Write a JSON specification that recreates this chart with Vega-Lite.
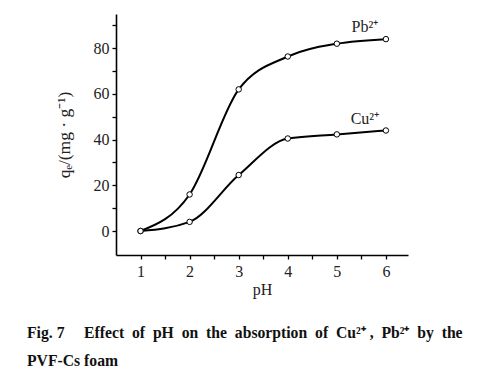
{
  "$schema": "https://vega.github.io/schema/vega-lite/v6.json",
  "width": 292,
  "height": 241,
  "autosize": "none",
  "padding": {"left": 116, "top": 14, "right": 87, "bottom": 125},
  "background": "white",
  "config": {
    "view": {"stroke": null},
    "font": "Liberation Serif",
    "axis": {"grid": false, "domainColor": "black", "domainWidth": 1.6, "tickColor": "black", "tickWidth": 1.3, "tickSize": 4, "labelFont": "Liberation Serif", "labelFontSize": 16, "labelColor": "#222", "titleFont": "Liberation Serif", "titleFontWeight": "normal", "titleColor": "#222", "titleFontSize": 16}
  },
  "title": {
    "text": ["Fig. 7\u00a0\u00a0\u00a0\u00a0\u00a0Effect\u00a0\u00a0of\u00a0\u00a0pH\u00a0\u00a0on\u00a0\u00a0the\u00a0\u00a0absorption\u00a0\u00a0of\u00a0\u00a0Cu²⁺\u00a0,\u00a0\u00a0Pb²⁺\u00a0\u00a0by\u00a0\u00a0the", "\u00a0\u00a0\u00a0\u00a0\u00a0\u00a0\u00a0\u00a0\u00a0\u00a0\u00a0\u00a0\u00a0\u00a0\u00a0\u00a0PVF-Cs foam"],
    "orient": "bottom",
    "anchor": "start",
    "frame": "group",
    "dx": -89,
    "offset": 29,
    "font": "Liberation Serif",
    "fontSize": 15.7,
    "fontWeight": "bold",
    "color": "#111",
    "lineHeight": 28
  },
  "data": {
    "values": [
      {"pH": 1, "q": 0, "ion": "Pb"},
      {"pH": 2, "q": 16, "ion": "Pb"},
      {"pH": 3, "q": 62, "ion": "Pb"},
      {"pH": 4, "q": 76.4, "ion": "Pb"},
      {"pH": 5, "q": 82, "ion": "Pb"},
      {"pH": 6, "q": 84, "ion": "Pb"},
      {"pH": 1, "q": 0, "ion": "Cu"},
      {"pH": 2, "q": 4, "ion": "Cu"},
      {"pH": 3, "q": 24.5, "ion": "Cu"},
      {"pH": 4, "q": 40.5, "ion": "Cu"},
      {"pH": 5, "q": 42.3, "ion": "Cu"},
      {"pH": 6, "q": 44, "ion": "Cu"}
    ]
  },
  "encoding": {
    "x": {"field": "pH", "type": "quantitative", "scale": {"domain": [0.5, 6.45], "nice": false, "zero": false},
      "axis": {"title": "pH", "values": [1, 1.5, 2, 2.5, 3, 3.5, 4, 4.5, 5, 5.5, 6], "labelExpr": "datum.value % 1 === 0 ? format(datum.value, 'd') : ''", "labelPadding": 4, "titlePadding": 2, "labelFlush": false}},
    "y": {"field": "q", "type": "quantitative", "scale": {"domain": [-10.5, 95], "nice": false, "zero": false},
      "axis": {"title": "qₑ/(mg · g⁻¹)", "titleFontSize": 17.5, "values": [0, 10, 20, 30, 40, 50, 60, 70, 80, 90], "labelExpr": "datum.value % 20 === 0 ? datum.label : ''", "labelPadding": 3, "titlePadding": 20, "labelFlush": false}}
  },
  "layer": [
    {"mark": {"type": "line", "interpolate": "monotone", "color": "black", "strokeWidth": 2}, "encoding": {"detail": {"field": "ion"}}},
    {"mark": {"type": "point", "shape": "circle", "filled": true, "fill": "white", "stroke": "black", "strokeWidth": 1, "size": 30, "opacity": 1}},
    {"transform": [{"filter": "datum.pH === 6"}, {"calculate": "datum.ion === 'Pb' ? 'Pb²⁺' : 'Cu²⁺'", "as": "label"}],
     "mark": {"type": "text", "font": "Liberation Serif", "fontSize": 16, "color": "#222", "dx": -21, "dy": -12, "align": "center", "baseline": "middle"},
     "encoding": {"text": {"field": "label"}}}
  ]
}
